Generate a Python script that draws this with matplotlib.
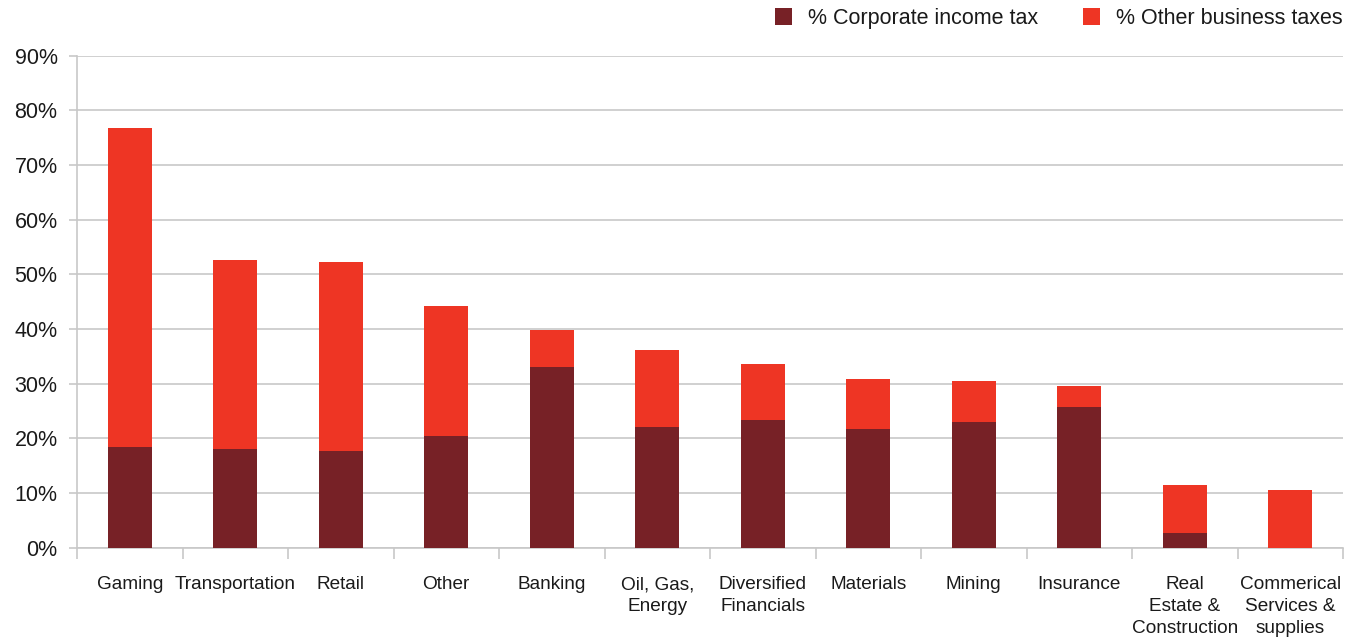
import matplotlib
matplotlib.use("Agg")
import matplotlib.pyplot as plt
import numpy as np

categories = ["Gaming", "Transportation", "Retail", "Other", "Banking",
              "Oil, Gas,\nEnergy", "Diversified\nFinancials", "Materials",
              "Mining", "Insurance", "Real\nEstate &\nConstruction",
              "Commerical\nServices &\nsupplies"]
corporate_income_tax = [18.4, 18.0, 17.7, 20.4, 33.0, 22.1, 23.4, 21.7, 23.0, 25.7, 2.7, 0.0]
total_tax = [76.7, 52.6, 52.2, 44.2, 39.8, 36.2, 33.6, 30.9, 30.5, 29.6, 11.4, 10.6]
other_business_taxes = [t - c for t, c in zip(total_tax, corporate_income_tax)]
y_ticks = [0, 10, 20, 30, 40, 50, 60, 70, 80, 90]

DARK = "#772126"
RED = "#EE3524"
GRID = "#c8c8c8"

plt.rcParams["font.family"] = ["Liberation Sans", "DejaVu Sans"]

fig = plt.figure(figsize=(13.62, 6.41), dpi=100)
ax = fig.add_axes([77 / 1362, 93.3 / 641, (1343 - 77) / 1362, (547.7 - 55.7) / 641])

x = np.arange(len(categories))
w = 0.42
ax.bar(x, corporate_income_tax, width=w, color=DARK, label="% Corporate income tax", zorder=3)
ax.bar(x, other_business_taxes, width=w, bottom=corporate_income_tax, color=RED,
       label="% Other business taxes", zorder=3)

ax.set_xlim(-0.5, len(categories) - 0.5)
ax.set_ylim(0, 90)
ax.set_yticks(y_ticks)
ax.set_yticklabels([f"{v}%" for v in y_ticks], fontsize=15.5, color="#1a1a1a")
ax.yaxis.grid(True, color=GRID, linewidth=1.2, zorder=0)
ax.tick_params(axis="y", length=6, width=1.2, color=GRID, pad=8)

ax.set_xticks(x)
ax.set_xticklabels(categories, fontsize=13.7, color="#1a1a1a", linespacing=1.38,
                   va="top")
ax.set_xticks(np.arange(len(categories) + 1) - 0.5, minor=True)
ax.tick_params(axis="x", which="major", length=0, pad=20.5)
ax.tick_params(axis="x", which="minor", length=8, width=1.2, color=GRID)

for side in ["top", "right"]:
    ax.spines[side].set_visible(False)
for side in ["left", "bottom"]:
    ax.spines[side].set_color(GRID)
    ax.spines[side].set_linewidth(1.2)

handles, labels = ax.get_legend_handles_labels()
fig.legend(handles, labels, ncol=2, loc="upper right",
           bbox_to_anchor=(1.0, 1.018), frameon=False, fontsize=15.5,
           handlelength=0.8, handleheight=0.8, handletextpad=0.75,
           columnspacing=2.05, labelcolor="#1a1a1a")

fig.savefig("out.png", dpi=100)
